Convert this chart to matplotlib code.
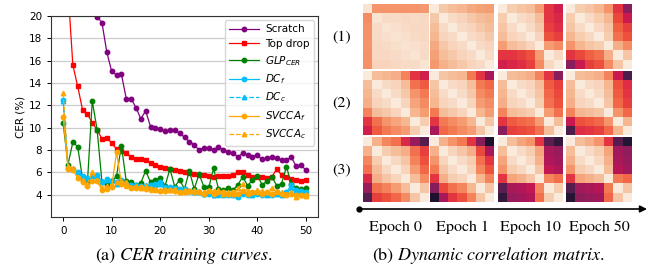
import matplotlib
matplotlib.use("Agg")
import matplotlib.pyplot as plt
import seaborn as sns
import numpy as np
from matplotlib.font_manager import FontProperties

# ---------------- data: CER training curves ----------------
epochs = list(range(51))
scratch = [34, 31, 28, 26, 24, 22, 20.3, 19.95, 19.4, 16.75, 15.05, 14.7, 14.8, 12.6, 12.6, 11.8,
           10.8, 11.5, 10.1, 9.95, 9.85, 9.7, 9.8, 9.75, 9.5, 9.15, 8.75, 8.45, 8.0, 8.2, 8.2, 8.0,
           8.3, 8.0, 7.85, 7.7, 7.4, 7.7, 7.55, 7.4, 7.55, 7.15, 7.25, 7.4, 7.25, 7.1, 7.1, 7.35,
           6.55, 6.65, 6.2]
top_drop = [30, 22.4, 15.6, 13.7, 11.6, 11.2, 10.45, 9.8, 9.0, 9.1, 8.6, 8.1, 7.9, 7.7, 7.4, 7.2,
            7.15, 7.1, 6.85, 6.7, 6.5, 6.4, 6.3, 6.2, 6.1, 6.0, 5.9, 5.85, 5.8, 5.8, 5.65, 5.6,
            5.65, 5.7, 5.7, 5.8, 6.0, 6.05, 5.75, 5.6, 5.6, 5.6, 5.5, 5.6, 6.3, 5.75, 5.6, 5.4,
            5.3, 5.25, 5.3]
glp_cer = [10.4, 6.7, 8.7, 8.3, 5.4, 5.05, 12.4, 9.8, 5.1, 5.0, 5.2, 5.65, 8.4, 5.2, 5.1, 4.9,
           5.05, 6.15, 5.1, 5.35, 5.5, 4.8, 6.3, 4.7, 5.35, 4.5, 6.15, 4.5, 5.85, 4.7, 4.65, 6.35,
           4.5, 4.4, 4.6, 4.4, 4.9, 5.6, 4.8, 5.3, 5.7, 4.9, 5.2, 5.6, 4.8, 5.0, 6.5, 5.0, 4.6,
           4.5, 4.6]
dc_f = [12.5, 6.4, 6.3, 6.0, 5.7, 5.5, 5.6, 5.8, 5.1, 5.4, 5.2, 5.1, 5.3, 5.0, 4.9, 4.9, 4.8,
        4.8, 4.9, 5.0, 5.1, 4.7, 4.7, 4.6, 4.5, 4.5, 4.3, 4.3, 4.2, 4.1, 4.1, 4.0, 4.0, 4.1, 4.0,
        4.1, 3.8, 4.1, 4.0, 4.1, 4.1, 4.0, 4.1, 4.0, 4.2, 4.1, 4.2, 4.9, 4.4, 4.3, 4.2]
dc_c = [12.4, 6.5, 6.3, 5.9, 5.6, 5.5, 5.7, 5.7, 5.2, 5.3, 5.3, 5.0, 5.2, 5.1, 4.9, 4.8, 4.8,
        4.9, 4.8, 4.9, 5.0, 4.6, 4.7, 4.5, 4.5, 4.4, 4.3, 4.2, 4.2, 4.1, 4.2, 4.0, 4.1, 4.0, 4.1,
        4.0, 3.9, 4.2, 4.1, 4.0, 4.2, 4.1, 4.0, 4.1, 4.1, 4.0, 4.1, 4.6, 4.3, 4.2, 4.1]
svcca_f = [11.0, 6.3, 6.2, 5.5, 5.1, 4.8, 5.2, 5.2, 4.4, 4.5, 4.7, 7.8, 5.0, 4.8, 4.6, 4.6, 4.7,
           4.5, 4.4, 4.4, 4.3, 4.3, 4.4, 4.3, 4.2, 4.2, 4.3, 4.2, 4.2, 4.1, 4.3, 4.1, 4.2, 4.2,
           4.1, 4.2, 4.1, 4.3, 4.1, 4.2, 4.2, 4.1, 4.2, 4.1, 4.2, 4.1, 4.0, 4.1, 4.0, 4.0, 4.0]
svcca_c = [13.1, 6.6, 6.4, 5.6, 5.3, 5.0, 6.0, 5.3, 4.6, 4.8, 4.9, 5.1, 5.2, 5.1, 4.7, 4.8, 4.6,
           4.8, 4.6, 4.5, 4.4, 4.5, 4.4, 4.5, 4.2, 4.4, 4.3, 4.4, 4.3, 4.2, 4.4, 4.3, 4.4, 4.1,
           4.2, 4.1, 4.6, 5.0, 4.3, 4.2, 4.4, 4.3, 4.2, 4.6, 4.3, 4.2, 4.1, 4.2, 3.8, 4.0, 3.9]

series_labels = ["Scratch", "Top drop", "$GLP_{CER}$", "$DC_f$", "$DC_c$", "$SVCCA_f$", "$SVCCA_c$"]
x_ticks = [0, 10, 20, 30, 40, 50]
y_ticks = [4, 6, 8, 10, 12, 14, 16, 18, 20]

# ---------------- data: dynamic correlation matrices (percent) ----------------
row_labels = ["(1)", "(2)", "(3)"]
col_labels = ["Epoch 0", "Epoch 1", "Epoch 10", "Epoch 50"]

hm_1_e0 = [[2, 22, 22, 22, 22, 22, 21],
           [24, 2, 4, 4, 5, 4, 5],
           [23, 4, 2, 3, 4, 5, 5],
           [23, 4, 3, 2, 3, 4, 5],
           [22, 5, 4, 3, 2, 3, 4],
           [23, 5, 5, 4, 3, 2, 4],
           [23, 6, 6, 5, 4, 4, 2]]
hm_1_e1 = [[0, 9, 12, 14, 17, 19, 20],
           [9, 0, 4, 6, 9, 12, 14],
           [12, 4, 0, 4, 6, 9, 12],
           [14, 6, 4, 0, 4, 6, 9],
           [17, 9, 6, 4, 0, 4, 6],
           [19, 12, 9, 6, 4, 0, 4],
           [21, 15, 12, 9, 6, 4, 0]]
hm_1_e10 = [[0, 8, 10, 12, 20, 42, 48],
            [8, 0, 4, 6, 12, 42, 46],
            [10, 4, 0, 4, 9, 40, 44],
            [12, 6, 4, 0, 6, 36, 40],
            [20, 12, 9, 6, 0, 20, 24],
            [42, 42, 40, 36, 20, 0, 5],
            [48, 46, 44, 40, 24, 5, 0]]
hm_1_e50 = [[0, 8, 10, 14, 22, 42, 65],
            [8, 0, 4, 8, 14, 38, 50],
            [10, 4, 0, 5, 10, 33, 40],
            [14, 8, 5, 0, 8, 30, 36],
            [22, 14, 10, 8, 0, 16, 24],
            [42, 38, 33, 30, 16, 0, 10],
            [65, 50, 40, 36, 24, 10, 0]]
hm_2_e0 = [[0, 12, 14, 16, 26, 42, 48],
           [12, 0, 4, 6, 12, 30, 34],
           [14, 4, 0, 4, 9, 22, 28],
           [16, 6, 4, 0, 6, 18, 24],
           [26, 12, 9, 6, 0, 14, 20],
           [42, 30, 22, 18, 14, 0, 8],
           [48, 34, 28, 24, 20, 8, 0]]
hm_2_e1 = [[0, 10, 12, 14, 28, 42, 58],
           [10, 0, 4, 6, 12, 28, 32],
           [12, 4, 0, 4, 9, 24, 28],
           [14, 6, 4, 0, 6, 20, 24],
           [28, 12, 9, 6, 0, 14, 20],
           [42, 28, 24, 20, 14, 0, 10],
           [58, 32, 28, 24, 20, 10, 0]]
hm_2_e10 = [[0, 12, 14, 16, 26, 42, 65],
            [12, 0, 4, 6, 12, 34, 40],
            [14, 4, 0, 4, 10, 32, 38],
            [16, 6, 4, 0, 8, 30, 36],
            [26, 12, 10, 8, 0, 20, 30],
            [42, 34, 32, 30, 20, 0, 12],
            [65, 40, 38, 36, 30, 12, 0]]
hm_2_e50 = [[0, 12, 14, 16, 26, 50, 80],
            [12, 0, 4, 6, 14, 36, 44],
            [14, 4, 0, 4, 12, 34, 42],
            [16, 6, 4, 0, 10, 32, 40],
            [26, 14, 12, 10, 0, 22, 32],
            [50, 36, 34, 32, 22, 0, 14],
            [80, 44, 42, 40, 32, 14, 0]]
hm_3_e0 = [[0, 15, 25, 30, 45, 62, 78],
           [15, 0, 8, 12, 16, 30, 40],
           [25, 8, 0, 5, 10, 26, 36],
           [30, 12, 5, 0, 6, 20, 32],
           [45, 16, 10, 6, 0, 12, 24],
           [62, 30, 26, 20, 12, 0, 10],
           [78, 40, 36, 32, 24, 10, 0]]
hm_3_e1 = [[0, 15, 22, 28, 42, 66, 92],
           [15, 0, 6, 10, 16, 38, 58],
           [22, 6, 0, 4, 8, 30, 42],
           [28, 10, 4, 0, 6, 25, 36],
           [42, 16, 8, 6, 0, 14, 26],
           [66, 38, 30, 25, 14, 0, 10],
           [92, 58, 42, 36, 26, 10, 0]]
hm_3_e10 = [[0, 12, 18, 22, 42, 76, 86],
            [12, 0, 4, 8, 18, 58, 62],
            [18, 4, 0, 5, 15, 56, 60],
            [22, 8, 5, 0, 10, 52, 56],
            [42, 18, 15, 10, 0, 25, 30],
            [76, 58, 56, 52, 25, 0, 8],
            [86, 62, 60, 56, 30, 8, 0]]
hm_3_e50 = [[0, 12, 16, 22, 42, 78, 90],
            [12, 0, 4, 8, 18, 60, 64],
            [16, 4, 0, 5, 15, 58, 62],
            [22, 8, 5, 0, 12, 55, 60],
            [42, 18, 15, 12, 0, 28, 32],
            [78, 60, 58, 55, 28, 0, 10],
            [90, 64, 62, 60, 32, 10, 0]]

matrices = [[hm_1_e0, hm_1_e1, hm_1_e10, hm_1_e50],
            [hm_2_e0, hm_2_e1, hm_2_e10, hm_2_e50],
            [hm_3_e0, hm_3_e1, hm_3_e10, hm_3_e50]]

# ---------------- figure ----------------
W, H = 662, 277
fig = plt.figure(figsize=(W / 100, H / 100), dpi=100)


def px_rect(x0, y0, x1, y1):
    return [x0 / W, 1 - y1 / H, (x1 - x0) / W, (y1 - y0) / H]


FS = 7.5
ax = fig.add_axes(px_rect(51, 16, 318, 217))
styles = [
    dict(color="purple", marker="o", ls="-"),
    dict(color="red", marker="s", ls="-"),
    dict(color="green", marker="o", ls="-"),
    dict(color="deepskyblue", marker="o", ls="-"),
    dict(color="deepskyblue", marker="^", ls="--"),
    dict(color="orange", marker="o", ls="-"),
    dict(color="orange", marker="^", ls="--"),
]
all_series = [scratch, top_drop, glp_cer, dc_f, dc_c, svcca_f, svcca_c]
for vals, lab, st in zip(all_series, series_labels, styles):
    ax.plot(epochs, vals, label=lab, lw=0.9, ms=3.2, **st)

ax.set_ylim(2, 20)
ax.set_xlim(-2.5, 52.5)
ax.set_xticks(x_ticks)
ax.set_yticks(y_ticks)
ax.tick_params(labelsize=FS, length=3, width=0.7)
ax.yaxis.grid(True, color="#cccccc", lw=0.9)
ax.set_axisbelow(True)
ax.set_ylabel("CER (%)", fontsize=FS, labelpad=2)
for sp in ax.spines.values():
    sp.set_linewidth(0.8)
    sp.set_color("#333333")
leg = ax.legend(loc="upper right", prop=FontProperties(size=FS, math_fontfamily="dejavusans"),
                handlelength=2.9, handletextpad=0.6, borderpad=0.4, labelspacing=0.45,
                borderaxespad=0.4)

# heatmaps
cmap = sns.color_palette("rocket_r", as_cmap=True)
col_x = [(363, 428), (430, 494), (498, 562), (566, 632)]
row_y = [(4, 69), (71, 135), (137, 202)]
for r, (y0, y1) in enumerate(row_y):
    for c, (x0, x1) in enumerate(col_x):
        hax = fig.add_axes(px_rect(x0, y0, x1, y1))
        hax.imshow(np.array(matrices[r][c]) / 100.0, cmap=cmap, vmin=0, vmax=1,
                   aspect="auto", interpolation="nearest")
        hax.axis("off")
    fig.text(342 / W, 1 - (y0 + y1) / 2 / H, row_labels[r], family="STIXGeneral",
             fontsize=11.5, ha="center", va="center")
for c, (x0, x1) in enumerate(col_x):
    fig.text((x0 + x1) / 2 / W, 1 - 227 / H, col_labels[c], family="STIXGeneral",
             fontsize=11.5, ha="center", va="center")

# overlay for arrow
ov = fig.add_axes([0, 0, 1, 1])
ov.set_xlim(0, W)
ov.set_ylim(H, 0)
ov.axis("off")
ov.patch.set_visible(False)
ov.annotate("", xy=(647, 209), xytext=(359, 209),
            arrowprops=dict(arrowstyle="-|>", color="black", lw=1.2, mutation_scale=10,
                            shrinkA=0, shrinkB=0))
ov.plot([359], [209], "o", color="black", ms=3.5)

# captions
fig.text(184 / W, 1 - 256 / H, r"(a) $\mathit{CER\ training\ curves.}$", family="STIXGeneral",
         math_fontfamily="stix", fontsize=13, ha="center", va="center")
fig.text(488 / W, 1 - 256 / H, r"(b) $\mathit{Dynamic\ correlation\ matrix.}$",
         family="STIXGeneral", math_fontfamily="stix", fontsize=13, ha="center", va="center")

fig.savefig("out.png", dpi=100)
